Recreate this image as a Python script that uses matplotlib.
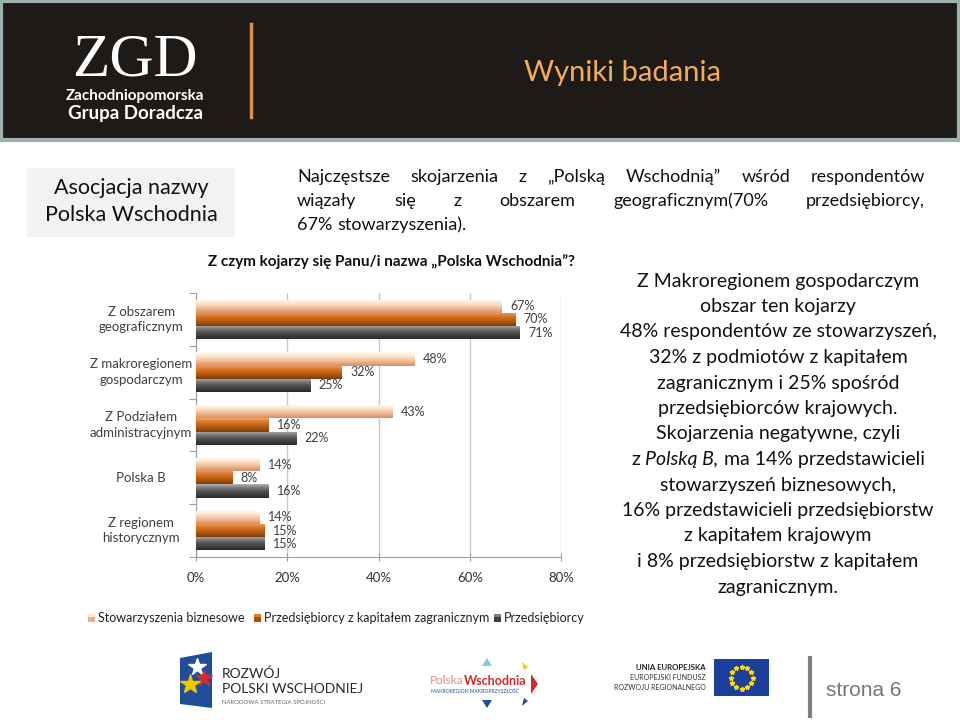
import matplotlib
matplotlib.use('Agg')
import matplotlib.pyplot as plt
from matplotlib.patches import Rectangle, Polygon
from matplotlib.colors import LinearSegmentedColormap
import numpy as np

# --- data ---
categories = ['Z obszarem\ngeograficznym', 'Z makroregionem\ngospodarczym',
              'Z Podziałem\nadministracyjnym', 'Polska B', 'Z regionem\nhistorycznym']
series_names = ['Stowarzyszenia biznesowe', 'Przedsiębiorcy z kapitałem zagranicznym', 'Przedsiębiorcy']
stowarzyszenia = [67, 48, 43, 14, 14]
kapital_zagr = [70, 32, 16, 8, 15]
przedsiebiorcy = [71, 25, 22, 16, 15]
x_ticks = [0, 20, 40, 60, 80]
x_tick_labels = ['0%', '20%', '40%', '60%', '80%']

chart_title = 'Z czym kojarzy się Panu/i nazwa \u201ePolska Wschodnia\u201d?'
header_title = 'Wyniki badania'
box_lines = ['Asocjacja nazwy', 'Polska Wschodnia']
para_lines = ['Najczęstsze skojarzenia z \u201ePolską Wschodnią\u201d wśród respondentów',
              'wiązały się z obszarem geograficznym(70% przedsiębiorcy,',
              '67% stowarzyszenia).']
right_lines = ['Z Makroregionem gospodarczym', 'obszar ten kojarzy',
               '48% respondentów ze stowarzyszeń,', '32% z podmiotów z kapitałem',
               'zagranicznym i 25% spośród', 'przedsiębiorców krajowych.',
               'Skojarzenia negatywne, czyli', None,
               'stowarzyszeń biznesowych,', '16% przedstawicieli przedsiębiorstw',
               'z kapitałem krajowym', 'i 8% przedsiębiorstw z kapitałem',
               'zagranicznym.']
italic_line = ['z ', 'Polską B,', ' ma 14% przedstawicieli']

grads = [['#fffaf2', '#fde9d6', '#f7cfae', '#eaae86', '#d4906a'],
         ['#f2a463', '#de7b2c', '#c4641a', '#a8520f', '#7c3a08'],
         ['#b4b4b4', '#7c7c7c', '#545454', '#3e3e3e', '#2a2a2a']]

FONT = 'Lato'
plt.rcParams['font.family'] = [FONT, 'DejaVu Sans']

fig = plt.figure(figsize=(9.6, 7.2), dpi=100)
deco = fig.add_axes([0, 0, 1, 1])
deco.set_xlim(0, 960)
deco.set_ylim(720, 0)
deco.axis('off')
renderer = fig.canvas.get_renderer()


def text_w(s, **kw):
    t = deco.text(0, 0, s, **kw)
    w = t.get_window_extent(renderer).width
    t.remove()
    return w


# --- header ---
deco.add_patch(Rectangle((1, 1), 958, 139, facecolor='#1e1a17', edgecolor='#9fb0b0', lw=3))
deco.text(135, 75, 'ZGD', color='white', fontsize=44, family='Liberation Serif',
          ha='center', va='baseline')
deco.text(135, 100, 'Zachodniopomorska', color='white', fontsize=11, fontweight='bold',
          ha='center', va='baseline')
deco.text(135, 119, 'Grupa Doradcza', color='white', fontsize=13.5, fontweight='bold',
          ha='center', va='baseline')
deco.plot([251, 251], [24, 117], color='#d8904a', lw=2.5)
deco.text(623, 73, header_title, color='#f3ad5a', fontsize=21, ha='center', va='center')

# --- box on left ---
deco.add_patch(Rectangle((27, 168), 208, 69, facecolor='#f2f2f2', edgecolor='none'))
deco.text(131, 188, box_lines[0], fontsize=15.5, ha='center', va='center', color='#111111')
deco.text(131, 215, box_lines[1], fontsize=15.5, ha='center', va='center', color='#111111')

# --- justified paragraph ---
para_fs = 13
sp_w = text_w('a a', fontsize=para_fs) - text_w('aa', fontsize=para_fs)
for i, line in enumerate(para_lines):
    y = 177 + i * 24
    words = line.split(' ')
    widths = [text_w(w, fontsize=para_fs) for w in words]
    if i < len(para_lines) - 1:
        gap = (925 - 297 - sum(widths)) / (len(words) - 1)
    else:
        gap = sp_w
    x = 297
    for w, wd in zip(words, widths):
        deco.text(x, y, w, fontsize=para_fs, ha='left', va='center', color='#111111')
        x += wd + gap

# --- chart title ---
deco.text(391, 262, chart_title, fontsize=11, fontweight='bold', ha='center', va='center',
          color='#111111')

# --- right description ---
r_fs = 14
for i, line in enumerate(right_lines):
    y = 281 + i * 25.5
    if line is not None:
        deco.text(778, y, line, fontsize=r_fs, ha='center', va='center', color='#111111')
    else:
        styles = ['normal', 'italic', 'normal']
        parts = [p.strip() for p in italic_line]
        ws = [text_w(p, fontsize=r_fs, style=s) for p, s in zip(parts, styles)]
        sw = text_w('a a', fontsize=r_fs) - text_w('aa', fontsize=r_fs)
        total = sum(ws) + 2 * sw
        x = 778 - total / 2
        for p, s, wd in zip(parts, styles, ws):
            deco.text(x, y, p, fontsize=r_fs, style=s, ha='left', va='center', color='#111111')
            x += wd + sw

# --- legend ---
leg_items = [(92, series_names[0]), (258, series_names[1]), (498, series_names[2])]
for k, (lx, name) in enumerate(leg_items):
    deco.add_patch(Rectangle((lx - 4, 614), 7, 8, facecolor=grads[k][3], edgecolor='none'))
    deco.add_patch(Rectangle((lx - 4, 614), 7, 3, facecolor=grads[k][1], edgecolor='none'))
    deco.text(lx + 6, 618, name, fontsize=9, ha='left', va='center', color='#222222')

# --- footer logos ---
deco.add_patch(Polygon([[180, 658], [212, 652], [212, 708], [180, 704]], closed=True,
                       facecolor='#1f4e9a', edgecolor='none'))
deco.plot([197], [667], marker='*', ms=13, color='white', mec='white')
deco.plot([204], [678], marker='*', ms=12, color='#d92a2a', mec='#d92a2a')
deco.plot([190], [684], marker='*', ms=15, color='#f5c400', mec='#f5c400')
deco.text(222, 674, 'ROZWÓJ', fontsize=10, ha='left', va='center', color='#2a2a2a')
deco.text(222, 689, 'POLSKI WSCHODNIEJ', fontsize=10, ha='left', va='center', color='#2a2a2a')
deco.text(222, 702, 'NARODOWA STRATEGIA SPÓJNOŚCI', fontsize=4.3, ha='left', va='center',
          color='#666666')

deco.add_patch(Polygon([[482, 666], [492, 666], [487, 658]], closed=True, facecolor='#8fc3e6'))
deco.add_patch(Polygon([[482, 700], [492, 700], [487, 708]], closed=True, facecolor='#1f4e9a'))
deco.add_patch(Polygon([[531, 674], [531, 694], [538, 684]], closed=True, facecolor='#d92a2a'))
deco.add_patch(Polygon([[522, 662], [528, 667], [524, 670]], closed=True, facecolor='#f0d000'))
deco.add_patch(Polygon([[522, 706], [528, 701], [524, 698]], closed=True, facecolor='#1f4e9a'))
deco.text(430, 681, 'Polska', fontsize=8.5, ha='left', va='center', color='#e88a8a')
deco.text(464, 681, 'Wschodnia', fontsize=9, fontweight='bold', ha='left', va='center',
          color='#d92a2a')
deco.text(431, 691, 'MAKROREGION MAKROPRZYSZŁOŚĆ', fontsize=3.6, ha='left', va='center',
          color='#1f4e9a')

deco.text(706, 668, 'UNIA EUROPEJSKA', fontsize=5.6, fontweight='bold', ha='right', va='center',
          color='#222222')
deco.text(706, 678, 'EUROPEJSKI FUNDUSZ', fontsize=5, ha='right', va='center', color='#333333')
deco.text(706, 687, 'ROZWOJU REGIONALNEGO', fontsize=5, ha='right', va='center', color='#333333')
deco.add_patch(Rectangle((714, 659), 55, 37, facecolor='#1b3f9a', edgecolor='none'))
ang = np.arange(12) * np.pi / 6
deco.plot(741.5 + 11 * np.cos(ang), 677.5 + 11 * np.sin(ang), ls='none', marker='*', ms=3.5,
          color='#ffdd00', mec='#ffdd00')
deco.plot([810, 810], [658, 716], color='#808080', lw=3)
deco.text(826, 691, 'strona 6', fontsize=15, family='Liberation Sans', ha='left', va='center',
          color='#777777')

# --- bar chart ---
ax = fig.add_axes([196 / 960, 1 - 557 / 720, (561 - 196) / 960, (557 - 293) / 720])
ax.set_facecolor('none')
n = len(categories)
yc = np.arange(n)[::-1]
h = 0.25
offsets = [h, 0, -h]
series = [stowarzyszenia, kapital_zagr, przedsiebiorcy]
for k, vals in enumerate(series):
    cmap = LinearSegmentedColormap.from_list('g%d' % k, grads[k])
    bars = ax.barh(yc + offsets[k], vals, height=h, color=grads[k][2], edgecolor='none', zorder=3)
    grad = np.linspace(0, 1, 64).reshape(-1, 1)
    for b, v in zip(bars, vals):
        x0, y0 = b.get_x(), b.get_y()
        im = ax.imshow(grad, extent=[x0, x0 + b.get_width(), y0, y0 + b.get_height()],
                       aspect='auto', cmap=cmap, origin='upper', zorder=4, interpolation='bilinear')
        im.set_clip_path(b)
        ax.text(v + 1.8, y0 + h / 2, '%d%%' % v, fontsize=9, ha='left', va='center',
                color='#404040', zorder=5)

ax.set_xlim(0, 80)
ax.set_ylim(-0.5, n - 0.5)
ax.set_aspect('auto')
ax.set_xticks(x_ticks)
ax.set_xticklabels(x_tick_labels, fontsize=9.5, color='#333333')
ax.set_yticks(np.arange(n + 1) - 0.5)
ax.set_yticklabels([])
ax.tick_params(axis='x', direction='inout', length=6, color='#a0a0a0', pad=8)
ax.tick_params(axis='y', direction='out', length=5, color='#a0a0a0')
ax.grid(axis='x', color='#c8c8c8', lw=1, zorder=0)
for s in ['top', 'right']:
    ax.spines[s].set_visible(False)
for s in ['left', 'bottom']:
    ax.spines[s].set_color('#a0a0a0')
for i, c in enumerate(categories):
    ax.text(-12, yc[i], c, fontsize=9.5, ha='center', va='center', color='#404040',
            linespacing=1.35, transform=ax.transData, clip_on=False)

fig.savefig('out.png', dpi=100)
